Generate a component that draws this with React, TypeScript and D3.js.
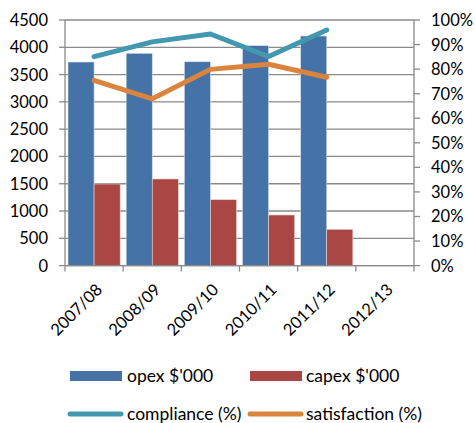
import React from "react";
import * as d3 from "d3";

const categories = ["2007/08", "2008/09", "2009/10", "2010/11", "2011/12", "2012/13"];
const opex: (number | null)[] = [3730, 3890, 3735, 4030, 4207, null];
const capex: (number | null)[] = [1495, 1587, 1207, 927, 665, null];
const compliance: (number | null)[] = [0.851, 0.911, 0.943, 0.851, 0.959, null];
const satisfaction: (number | null)[] = [0.754, 0.679, 0.799, 0.82, 0.767, null];
const leftTicks = [0, 500, 1000, 1500, 2000, 2500, 3000, 3500, 4000, 4500];
const rightTicks = [0, 0.1, 0.2, 0.3, 0.4, 0.5, 0.6, 0.7, 0.8, 0.9, 1.0];

const W = 475;
const H = 423;
const plot = { left: 65, right: 414, top: 20, bottom: 265.6 };
const FONT = "Lato, 'Open Sans', sans-serif";
const C = { opex: "#4572A7", capex: "#AA4643", compliance: "#4198AF", satisfaction: "#DB843D", grid: "#8a8a8a" };

export default function App() {
  const x0 = d3.scaleBand<string>().domain(categories).range([plot.left, plot.right]).padding(0);
  const x1 = d3.scaleBand<string>().domain(["opex", "capex"]).range([0, x0.bandwidth()]).paddingInner(0).paddingOuter(0.115);
  const yL = d3.scaleLinear().domain([0, 4500]).range([plot.bottom, plot.top]);
  const yR = d3.scaleLinear().domain([0, 1]).range([plot.bottom, plot.top]);
  const cx = (c: string) => (x0(c) as number) + x0.bandwidth() / 2;

  const lineGen = d3
    .line<[string, number | null]>()
    .defined((d) => d[1] != null)
    .x((d) => cx(d[0]))
    .y((d) => yR(d[1] as number));

  const pct = d3.format(".0%");
  const catTicks = [...categories.map((c) => x0(c) as number), plot.right];

  return (
    <svg width={W} height={H} style={{ position: "absolute", left: 0, top: 0, background: "#fff" }} fontFamily={FONT}>
      {leftTicks.map((t) => (
        <line key={"g" + t} x1={plot.left} x2={plot.right} y1={yL(t)} y2={yL(t)} stroke={C.grid} strokeWidth={1.3} />
      ))}
      {categories.map((c, i) => (
        <g key={c} transform={`translate(${x0(c)},0)`}>
          {opex[i] != null && (
            <rect x={x1("opex")} y={yL(opex[i] as number)} width={x1.bandwidth()} height={plot.bottom - yL(opex[i] as number)} fill={C.opex} stroke="#d5dfeb" strokeWidth={0.6} />
          )}
          {capex[i] != null && (
            <rect x={x1("capex")} y={yL(capex[i] as number)} width={x1.bandwidth()} height={plot.bottom - yL(capex[i] as number)} fill={C.capex} stroke="#ead3d2" strokeWidth={0.6} />
          )}
        </g>
      ))}
      <line x1={plot.left} x2={plot.left} y1={plot.top} y2={plot.bottom} stroke={C.grid} strokeWidth={1.3} />
      <line x1={plot.right} x2={plot.right} y1={plot.top} y2={plot.bottom} stroke={C.grid} strokeWidth={1.3} />
      <line x1={plot.left} x2={plot.right} y1={plot.bottom} y2={plot.bottom} stroke={C.grid} strokeWidth={1.3} />
      {leftTicks.map((t) => (
        <g key={"l" + t}>
          <line x1={plot.left - 6} x2={plot.left} y1={yL(t)} y2={yL(t)} stroke={C.grid} strokeWidth={1.3} />
          <text x={48} y={yL(t)} dy="0.36em" textAnchor="end" fontSize={16.5} fill="#000">
            {t}
          </text>
        </g>
      ))}
      {rightTicks.map((t) => (
        <g key={"r" + t}>
          <line x1={plot.right} x2={plot.right + 6} y1={yR(t)} y2={yR(t)} stroke={C.grid} strokeWidth={1.3} />
          <text x={431} y={yR(t)} dy="0.36em" textAnchor="start" fontSize={16.5} fill="#000">
            {pct(t)}
          </text>
        </g>
      ))}
      {catTicks.map((x, i) => (
        <line key={"c" + i} x1={x} x2={x} y1={plot.bottom} y2={plot.bottom + 6} stroke={C.grid} strokeWidth={1.3} />
      ))}
      {categories.map((c) => (
        <text key={"t" + c} transform={`translate(${cx(c) + 5},${plot.bottom + 21}) rotate(-45)`} textAnchor="end" dy="0.36em" fontSize={16.5} fill="#000">
          {c}
        </text>
      ))}
      <path d={lineGen(categories.map((c, i) => [c, compliance[i]])) || ""} fill="none" stroke={C.compliance} strokeWidth={5} strokeLinecap="round" strokeLinejoin="round" />
      <path d={lineGen(categories.map((c, i) => [c, satisfaction[i]])) || ""} fill="none" stroke={C.satisfaction} strokeWidth={5} strokeLinecap="round" strokeLinejoin="round" />
      <rect x={70} y={371} width={52} height={10} fill={C.opex} />
      <text x={127} y={376} dy="0.36em" fontSize={17.5} fill="#000">opex $'000</text>
      <rect x={250} y={371} width={52} height={10} fill={C.capex} />
      <text x={306} y={376} dy="0.36em" fontSize={17.5} fill="#000">capex $'000</text>
      <line x1={70} x2={121} y1={414} y2={414} stroke={C.compliance} strokeWidth={5} strokeLinecap="round" />
      <text x={127} y={414} dy="0.36em" fontSize={17.5} fill="#000">compliance (%)</text>
      <line x1={250} x2={301} y1={414} y2={414} stroke={C.satisfaction} strokeWidth={5} strokeLinecap="round" />
      <text x={306} y={414} dy="0.36em" fontSize={17.5} fill="#000">satisfaction (%)</text>
    </svg>
  );
}
